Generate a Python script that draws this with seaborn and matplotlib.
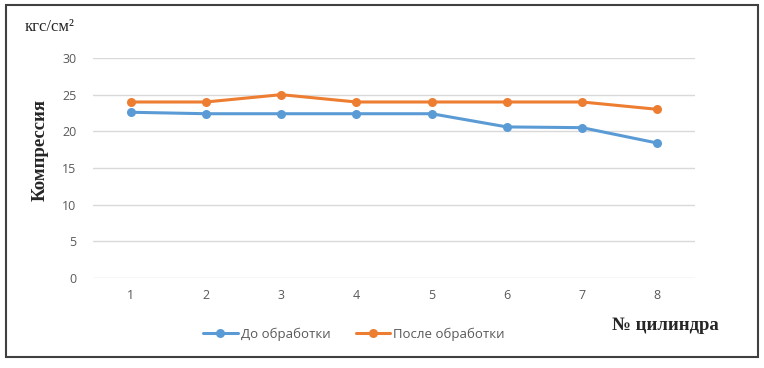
import pandas as pd
import numpy as np
import matplotlib
matplotlib.use("Agg")
import matplotlib.pyplot as plt
import seaborn as sns
from matplotlib.patches import Rectangle

# cylinder numbers and compression, kgf/cm2
cylinders = [1, 2, 3, 4, 5, 6, 7, 8]
before = [22.6, 22.4, 22.4, 22.4, 22.4, 20.6, 20.5, 18.4]
after = [24.0, 24.0, 25.0, 24.0, 24.0, 24.0, 24.0, 23.0]
series_names = ["До обработки", "После обработки"]
y_ticks = [0, 5, 10, 15, 20, 25, 30]

df = pd.DataFrame({
    "cyl": cylinders * 2,
    "val": before + after,
    "series": [series_names[0]] * 8 + [series_names[1]] * 8,
})

sns.set_style("white")
plt.rcParams["font.family"] = ["Open Sans", "DejaVu Sans"]

fig = plt.figure(figsize=(7.64, 3.68), dpi=100)
ax = fig.add_axes([0.1217, 0.2446, 0.788, 0.5978])

pal = {series_names[0]: "#5B9BD5", series_names[1]: "#ED7D31"}
sns.lineplot(data=df, x="cyl", y="val", hue="series", palette=pal,
             marker="o", markersize=6.5, markeredgewidth=0, linewidth=2.2,
             ax=ax, legend=True)

ax.set_xlim(0.5, 8.5)
ax.set_ylim(0, 30)
ax.set_yticks(y_ticks)
ax.set_xticks(cylinders)
ax.grid(axis="y", color="#D9D9D9", linewidth=1)
ax.set_axisbelow(True)
for s in ax.spines.values():
    s.set_visible(False)
ax.tick_params(axis="both", length=0, labelsize=9, labelcolor="#595959")
ax.tick_params(axis="y", pad=12)
ax.tick_params(axis="x", pad=8)
ax.set_xlabel("")
ax.set_ylabel("")

handles, labels = ax.get_legend_handles_labels()
ax.get_legend().remove()
fig.legend(handles, labels, loc="center", bbox_to_anchor=(354 / 764, 1 - 334 / 368),
           ncol=2, frameon=False, fontsize=9.5, handlelength=2.6,
           columnspacing=1.9, handletextpad=0.25, labelcolor="#595959")

serif = ["Liberation Serif", "DejaVu Serif"]
fig.text(40 / 764, 1 - 150 / 368, "Компрессия", rotation=90, ha="center", va="center",
         family=serif, fontweight="bold", fontsize=13.5)
fig.text(25 / 764, 1 - 27 / 368, "кгс/см²", ha="left", va="center",
         family=serif, fontsize=12)
fig.text(665 / 764, 1 - 325 / 368, "№ цилиндра", ha="center", va="center",
         family=serif, fontweight="bold", fontsize=13.5)

fig.patches.append(Rectangle((6 / 764, 11 / 368), 752 / 764, 352 / 368,
                             transform=fig.transFigure, fill=False,
                             edgecolor="#404040", linewidth=1.5))

fig.savefig("out.png", dpi=100)
